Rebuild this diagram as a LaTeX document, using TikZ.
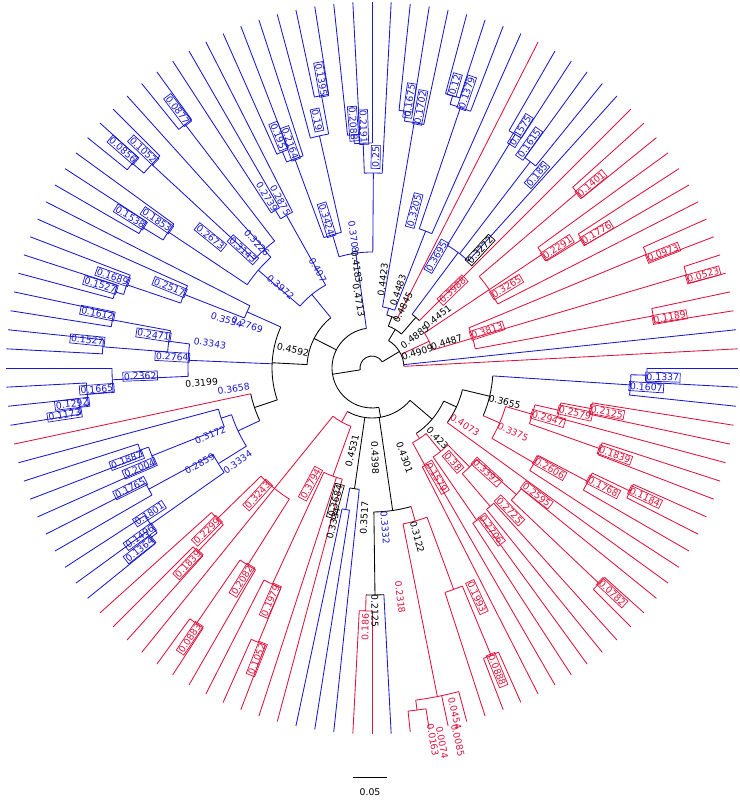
\documentclass[tikz,border=0pt]{standalone}
\usepackage{fontspec}
\newfontfamily\lblfont{DejaVu Sans}
\definecolor{rd}{RGB}{220,20,60}
\definecolor{bl}{RGB}{25,25,205}
% radial branch, arc joining children, tip to the rim, branch label
\newcommand{\brch}[4]{\draw[#1] (#2:#3pt) -- (#2:#4pt);}
\newcommand{\jn}[4]{\draw[#1] (#2:#4pt) arc[start angle=#2, end angle=#3, radius=#4pt];}
\newcommand{\tipl}[3]{\draw[#1] (#2:#3pt) -- (#2:366pt);}
\newcommand{\lab}[4]{\pgfmathsetmacro\rt{cos(#2)<0 ? #2-180 : #2}\node[#1,rotate=\rt] at (#2:#3pt) {#4};}
\tikzset{
  bx/.style={draw, line width=0.7pt, inner sep=1pt, font={\lblfont\fontsize{9.3}{10}\selectfont}},
  pl/.style={inner sep=1pt, font={\lblfont\fontsize{9.3}{10}\selectfont}},
}
\begin{document}
\begin{tikzpicture}[line width=0.85pt]
\useasboundingbox (0pt,0pt) rectangle (739pt,800pt);
\begin{scope}[shift={(372pt,432pt)}]
% root and right clade
\jn{black}{31}{189}{12}
\brch{black}{31}{12}{32} \jn{black}{3}{58.85}{32}
\tipl{rd}{3}{32} \tipl{bl}{6}{32}
\brch{rd}{25.1}{32}{63} \jn{rd}{16.5}{33.75}{63}
\brch{rd}{16.5}{63}{105} \jn{rd}{10.5}{22.5}{105}
\brch{rd}{10.5}{105}{286} \jn{rd}{9}{12}{286} \tipl{rd}{9}{286} \tipl{rd}{12}{286}
\brch{rd}{16.5}{105}{328} \jn{rd}{15}{18}{328} \tipl{rd}{15}{328} \tipl{rd}{18}{328}
\brch{rd}{22.5}{105}{297} \jn{rd}{21}{24}{297} \tipl{rd}{21}{297} \tipl{rd}{24}{297}
\brch{rd}{33.75}{63}{141} \jn{rd}{27}{40.5}{141} \tipl{rd}{27}{141}
\brch{rd}{33.75}{141}{205} \jn{rd}{31.5}{36}{205} \tipl{rd}{36}{205}
\brch{rd}{31.5}{205}{246} \jn{rd}{30}{33}{246} \tipl{rd}{30}{246} \tipl{rd}{33}{246}
\brch{rd}{40.5}{141}{270} \jn{rd}{39}{42}{270} \tipl{rd}{39}{270} \tipl{rd}{42}{270}
\brch{black}{58.85}{32}{45} \jn{black}{49.1}{68.7}{45}
\brch{black}{49.1}{45}{67} \jn{black}{45}{53.25}{67} \tipl{rd}{45}{67}
\brch{bl}{53.25}{67}{144} \jn{bl}{48}{58.5}{144} \tipl{bl}{48}{144}
\brch{bl}{52.5}{144}{260} \jn{bl}{51}{54}{260} \tipl{bl}{51}{260} \tipl{bl}{54}{260}
\brch{bl}{58.5}{144}{274} \jn{bl}{57}{60}{274} \tipl{bl}{57}{274} \tipl{bl}{60}{274}
\brch{black}{68.7}{45}{55} \jn{black}{63}{74.4}{55} \tipl{rd}{63}{55}
\brch{bl}{74.4}{55}{62} \jn{bl}{68.6}{80.25}{62}
\brch{bl}{68.6}{62}{147} \jn{bl}{66}{71.25}{147} \tipl{bl}{66}{147}
\brch{bl}{71.25}{147}{275} \jn{bl}{69}{73.5}{275} \tipl{bl}{69}{275}
\brch{bl}{73.5}{275}{284} \jn{bl}{72}{75}{284} \tipl{bl}{72}{284} \tipl{bl}{75}{284}
\brch{bl}{80.25}{62}{249} \jn{bl}{78}{82.5}{249} \tipl{bl}{78}{249}
\brch{bl}{82.5}{249}{259} \jn{bl}{81}{84}{259} \tipl{bl}{81}{259} \tipl{bl}{84}{259}
% upper and left clades
\brch{black}{189}{12}{40} \jn{black}{98.05}{279.9}{40}
\brch{bl}{98.05}{40}{116} \jn{bl}{89.6}{106.5}{116}
\brch{bl}{89.6}{116}{195} \jn{bl}{87}{92.25}{195} \tipl{bl}{87}{195}
\brch{bl}{92.25}{195}{225} \jn{bl}{90}{94.5}{225} \tipl{bl}{90}{225}
\brch{bl}{94.5}{225}{234} \jn{bl}{93}{96}{234} \tipl{bl}{93}{234} \tipl{bl}{96}{234}
\brch{bl}{106.5}{116}{139} \jn{bl}{102.75}{110.25}{139}
\brch{bl}{102.75}{139}{238} \jn{bl}{100.5}{105}{238} \tipl{bl}{105}{238}
\brch{bl}{100.5}{238}{277} \jn{bl}{99}{102}{277} \tipl{bl}{99}{277} \tipl{bl}{102}{277}
\brch{bl}{110.25}{139}{223} \jn{bl}{108}{112.5}{223} \tipl{bl}{108}{223}
\brch{bl}{112.5}{223}{234} \jn{bl}{111}{114}{234} \tipl{bl}{111}{234} \tipl{bl}{114}{234}
\brch{black}{153}{40}{65} \jn{black}{129.3}{177}{65}
\brch{bl}{129.3}{65}{95} \jn{bl}{119.25}{139.3}{95}
\brch{bl}{119.25}{95}{175} \jn{bl}{117}{121.5}{175} \tipl{bl}{117}{175}
\brch{bl}{121.5}{175}{185} \jn{bl}{120}{123}{185} \tipl{bl}{120}{185} \tipl{bl}{123}{185}
\brch{bl}{139.3}{95}{150} \jn{bl}{132.4}{146.25}{150}
\brch{bl}{132.4}{150}{160} \jn{bl}{127.5}{137.25}{160} \tipl{bl}{132}{160}
\brch{bl}{127.5}{160}{307} \jn{bl}{126}{129}{307} \tipl{bl}{126}{307} \tipl{bl}{129}{307}
\brch{bl}{137.25}{160}{300} \jn{bl}{135}{139.5}{300} \tipl{bl}{135}{300}
\brch{bl}{139.5}{300}{315} \jn{bl}{138}{141}{315} \tipl{bl}{138}{315} \tipl{bl}{141}{315}
\brch{bl}{146.25}{150}{245} \jn{bl}{144}{148.5}{245} \tipl{bl}{144}{245}
\brch{bl}{148.5}{245}{269} \jn{bl}{147}{150}{269} \tipl{bl}{147}{269} \tipl{bl}{150}{269}
\brch{black}{177}{65}{100} \jn{black}{155.8}{198.6}{100}
\brch{bl}{155.8}{100}{137} \jn{bl}{153}{158.6}{137} \tipl{bl}{153}{137}
\brch{bl}{158.6}{137}{202} \jn{bl}{156}{161.25}{202} \tipl{bl}{156}{202}
\brch{bl}{161.25}{202}{259} \jn{bl}{159}{163.5}{259} \tipl{bl}{159}{259}
\brch{bl}{163.5}{259}{268} \jn{bl}{162}{165}{268} \tipl{bl}{162}{268} \tipl{bl}{165}{268}
\brch{bl}{177.6}{100}{184} \jn{bl}{172.5}{182.6}{184}
\brch{bl}{172.5}{184}{205} \jn{bl}{169.5}{175.5}{205}
\brch{bl}{169.5}{205}{264} \jn{bl}{168}{171}{264} \tipl{bl}{168}{264} \tipl{bl}{171}{264}
\brch{bl}{175.5}{205}{270} \jn{bl}{174}{177}{270} \tipl{bl}{174}{270} \tipl{bl}{177}{270}
\brch{bl}{182.6}{184}{260} \jn{bl}{180}{185.25}{260} \tipl{bl}{180}{260}
\brch{bl}{185.25}{260}{286} \jn{bl}{183}{187.5}{286} \tipl{bl}{183}{286}
\brch{bl}{187.5}{286}{295} \jn{bl}{186}{189}{295} \tipl{bl}{186}{295} \tipl{bl}{189}{295}
\brch{black}{198.6}{100}{124} \jn{black}{192}{205.15}{124} \tipl{rd}{192}{124}
\brch{bl}{205.15}{124}{148} \jn{bl}{198.4}{211.9}{148}
\brch{bl}{198.4}{148}{159} \jn{bl}{195}{201.75}{159} \tipl{bl}{195}{159}
\brch{bl}{201.75}{159}{237} \jn{bl}{199.5}{204}{237} \tipl{bl}{204}{237}
\brch{bl}{199.5}{237}{246} \jn{bl}{198}{201}{246} \tipl{bl}{198}{246} \tipl{bl}{201}{246}
\brch{bl}{211.9}{148}{181} \jn{bl}{208.5}{215.25}{181}
\brch{bl}{208.5}{181}{254} \jn{bl}{207}{210}{254} \tipl{bl}{207}{254} \tipl{bl}{210}{254}
\brch{bl}{215.25}{181}{271} \jn{bl}{213}{217.5}{271} \tipl{bl}{213}{271}
\brch{bl}{217.5}{271}{279} \jn{bl}{216}{219}{279} \tipl{bl}{216}{279} \tipl{bl}{219}{279}
% bottom clades
\brch{black}{279.9}{40}{50} \jn{black}{240.55}{319.6}{50}
\brch{rd}{240.55}{50}{62} \jn{rd}{231}{250.1}{62}
\brch{rd}{231}{62}{155} \jn{rd}{224.25}{237.75}{155} \tipl{rd}{231}{155}
\brch{rd}{224.25}{155}{216} \jn{rd}{222}{226.5}{216} \tipl{rd}{222}{216}
\brch{rd}{226.5}{216}{253} \jn{rd}{225}{228}{253} \tipl{rd}{225}{253} \tipl{rd}{228}{253}
\brch{rd}{237.75}{155}{233} \jn{rd}{235.5}{240}{233} \tipl{rd}{240}{233}
\brch{rd}{235.5}{233}{310} \jn{rd}{234}{237}{310} \tipl{rd}{234}{310} \tipl{rd}{237}{310}
\brch{rd}{250.1}{62}{115} \jn{rd}{245.25}{255}{115} \tipl{rd}{252}{115} \tipl{rd}{255}{115}
\brch{rd}{245.25}{115}{238} \jn{rd}{243}{247.5}{238} \tipl{rd}{243}{238}
\brch{rd}{247.5}{238}{297} \jn{rd}{246}{249}{297} \tipl{rd}{246}{297} \tipl{rd}{249}{297}
\brch{black}{261.75}{50}{122} \jn{black}{259.5}{264}{122} \tipl{bl}{264}{122}
\brch{bl}{259.5}{122}{144} \jn{bl}{258}{261}{144} \tipl{bl}{258}{144} \tipl{bl}{261}{144}
\brch{black}{278.25}{50}{144} \jn{black}{270.75}{285.75}{144}
\brch{black}{270.75}{144}{227} \jn{black}{268.5}{273}{227} \tipl{bl}{273}{227}
\brch{rd}{268.5}{227}{243} \jn{rd}{267}{270}{243} \tipl{rd}{267}{243} \tipl{rd}{270}{243}
\brch{rd}{285.75}{144}{159} \jn{rd}{281.25}{290.25}{159}
\brch{rd}{281.25}{159}{335} \jn{rd}{277.5}{285}{335} \tipl{rd}{282}{335} \tipl{rd}{285}{335}
\brch{rd}{277.5}{335}{345} \jn{rd}{276}{279}{345} \tipl{rd}{276}{345} \tipl{rd}{279}{345}
\brch{rd}{290.25}{159}{236} \jn{rd}{288}{292.5}{236} \tipl{rd}{288}{236}
\brch{rd}{292.5}{236}{311} \jn{rd}{291}{294}{311} \tipl{rd}{291}{311} \tipl{rd}{294}{311}
\brch{black}{319.6}{50}{79} \jn{black}{304}{335.25}{79}
\brch{rd}{304}{79}{85} \jn{rd}{298.5}{309.5}{85}
\brch{rd}{298.5}{85}{111} \jn{rd}{297}{300}{111} \tipl{rd}{297}{111} \tipl{rd}{300}{111}
\brch{rd}{309.5}{85}{108} \jn{rd}{304.5}{314.6}{108}
\brch{rd}{304.5}{108}{185} \jn{rd}{303}{306}{185} \tipl{rd}{303}{185} \tipl{rd}{306}{185}
\brch{rd}{314.6}{108}{139} \jn{rd}{310.5}{318.75}{139}
\brch{rd}{310.5}{139}{182} \jn{rd}{309}{312}{182} \tipl{rd}{309}{182} \tipl{rd}{312}{182}
\brch{rd}{318.75}{139}{192} \jn{rd}{316.5}{321}{192} \tipl{rd}{321}{192}
\brch{rd}{316.5}{192}{313} \jn{rd}{315}{318}{313} \tipl{rd}{315}{313} \tipl{rd}{318}{313}
\brch{black}{335.25}{79}{93} \jn{black}{324}{346.5}{93} \tipl{rd}{324}{93}
\brch{black}{346.5}{93}{121} \jn{black}{336.75}{356.25}{121}
\brch{rd}{336.75}{121}{139} \jn{rd}{329.6}{343.9}{139}
\brch{rd}{329.6}{139}{188} \jn{rd}{327}{332.25}{188} \tipl{rd}{327}{188}
\brch{rd}{332.25}{188}{244} \jn{rd}{330}{334.5}{244} \tipl{rd}{330}{244}
\brch{rd}{334.5}{244}{286} \jn{rd}{333}{336}{286} \tipl{rd}{333}{286} \tipl{rd}{336}{286}
\brch{rd}{343.9}{139}{167} \jn{rd}{340.5}{347.25}{167}
\brch{rd}{340.5}{167}{242} \jn{rd}{339}{342}{242} \tipl{rd}{339}{242} \tipl{rd}{342}{242}
\brch{rd}{347.25}{167}{192} \jn{rd}{345}{349.5}{192} \tipl{rd}{345}{192}
\brch{rd}{349.5}{192}{223} \jn{rd}{348}{351}{223} \tipl{rd}{348}{223} \tipl{rd}{351}{223}
\brch{bl}{356.25}{121}{259} \jn{bl}{354}{358.5}{259} \tipl{bl}{354}{259}
\brch{bl}{358.5}{259}{275} \jn{bl}{357}{360}{275} \tipl{bl}{357}{275} \tipl{bl}{360}{275}
% branch labels
\lab{bx,rd}{9.7}{302}{0.1189} \lab{bx,rd}{15.7}{344}{0.0523} \lab{bx,rd}{21.6}{313}{0.0973}
\lab{bx,rd}{31}{262}{0.1776} \lab{bx,rd}{33}{221}{0.2291} \lab{bx,rd}{40}{286}{0.1401}
\lab{bx,rd}{31}{157}{0.3265} \lab{bx,rd}{18}{121}{0.3813} \lab{bx,rd}{44}{112}{0.3988}
\lab{pl}{19}{79}{0.4487} \lab{pl}{19}{48}{0.4909} \lab{pl}{36}{53}{0.4885} \lab{pl}{38}{83}{0.4451}
\lab{pl}{63}{68}{0.4845} \lab{pl}{71.5}{82}{0.4483} \lab{pl}{83}{89}{0.4423} \lab{bx}{47.5}{160}{0.3272}
\lab{bx,bl}{49.5}{254}{0.185} \lab{bx,bl}{58}{280}{0.1575} \lab{bx,bl}{55}{274}{0.1615}
\lab{bx,bl}{60}{129}{0.3695} \lab{bx,bl}{75}{163}{0.3205} \lab{bx,bl}{82}{270}{0.1675}
\lab{bx,bl}{79.5}{265}{0.1702} \lab{bx,bl}{73.7}{295}{0.12} \lab{bx,bl}{71}{291}{0.1379}
\lab{bx,bl}{89}{211}{0.25} \lab{bx,bl}{100}{293}{0.1395} \lab{bx,bl}{102.5}{254}{0.19}
\lab{bx,bl}{94.4}{245}{0.2088} \lab{bx,bl}{92}{241}{0.2191} \lab{bx,bl}{112}{250}{0.195}
\lab{bx,bl}{110}{239}{0.2164} \lab{bx,bl}{107}{155}{0.3424}
\lab{pl,bl}{98}{132}{0.3708} \lab{pl,bl}{119}{112}{0.407} \lab{pl,bl}{121.5}{201}{0.2739}
\lab{pl,bl}{118.7}{191}{0.2875} \lab{pl,bl}{132.6}{170}{0.3226} \lab{pl,bl}{138.6}{122}{0.3972}
\lab{pl,bl}{161.8}{153}{0.3534} \lab{pl,bl}{161}{132}{0.2769} \lab{pl,bl}{171.3}{164}{0.3343}
\lab{pl,bl}{188.6}{140}{0.3658} \lab{pl,bl}{202.5}{175}{0.3172} \lab{pl,bl}{209}{197}{0.2859}
\lab{pl,bl}{215}{164}{0.3334}
\lab{pl}{98.5}{102}{0.4183} \lab{pl}{101}{69}{0.4713} \lab{pl}{167}{81}{0.4592} \lab{pl}{185}{171}{0.3199}
\lab{bx,bl}{127}{323}{0.0877} \lab{bx,bl}{136.4}{316}{0.1052} \lab{bx,bl}{138.8}{331}{0.0856}
\lab{bx,bl}{145.5}{261}{0.1853} \lab{bx,bl}{148}{285}{0.1538} \lab{bx,bl}{141}{208}{0.2673}
\lab{bx,bl}{137.5}{175}{0.3143} \lab{bx,bl}{158.2}{218}{0.2517} \lab{bx,bl}{160.6}{275}{0.1689}
\lab{bx,bl}{163}{284}{0.1527} \lab{bx,bl}{168.7}{280}{0.1612} \lab{bx,bl}{171.4}{221}{0.2471}
\lab{bx,bl}{174.4}{286}{0.1527} \lab{bx,bl}{176.8}{200}{0.2764} \lab{bx,bl}{182}{232}{0.2362}
\lab{bx,bl}{184.4}{276}{0.1665} \lab{bx,bl}{186.8}{302}{0.1292} \lab{bx,bl}{188.7}{311}{0.1173}
\lab{bx,bl}{200.6}{262}{0.1887} \lab{bx,bl}{203.3}{253}{0.2004} \lab{bx,bl}{206.4}{270}{0.1765}
\lab{bx,bl}{213.2}{266}{0.1801} \lab{bx,bl}{216}{287}{0.1496} \lab{bx,bl}{218}{295}{0.1364}
\lab{bx,rd}{224.6}{232}{0.2299} \lab{bx,rd}{226.8}{269}{0.1839} \lab{bx,rd}{238.5}{249}{0.2082}
\lab{bx,rd}{236}{326}{0.0883} \lab{bx,rd}{246.4}{254}{0.1979} \lab{bx,rd}{248.4}{313}{0.1052}
\lab{bx,rd}{242}{131}{0.3794} \lab{bx,rd}{228}{171}{0.3243}
\lab{pl}{256.5}{85}{0.4531} \lab{bx}{254.6}{138}{0.3684} \lab{pl}{256}{160}{0.3334}
\lab{pl}{267}{150}{0.3517} \lab{pl}{272}{90}{0.4398} \lab{pl}{290}{95}{0.4301} \lab{pl}{285}{175}{0.3122}
\lab{pl}{270.7}{243}{0.2125} \lab{pl}{313}{96}{0.423} \lab{pl}{345.7}{137}{0.3655}
\lab{pl,bl}{274.7}{160}{0.3332}
\lab{pl,rd}{268.5}{259}{0.186} \lab{pl,rd}{277}{231}{0.2318} \lab{pl,rd}{283.5}{355}{0.0454}
\lab{pl,rd}{283}{382}{0.0085} \lab{pl,rd}{280.6}{381}{0.0074} \lab{pl,rd}{279.3}{377}{0.0163}
\lab{pl,rd}{328.5}{109}{0.4073} \lab{pl,rd}{335.6}{155}{0.3375}
\lab{bx,rd}{294.6}{252}{0.1993} \lab{bx,rd}{292.5}{327}{0.0888} \lab{bx,rd}{300.6}{127}{0.1579}
\lab{bx,rd}{310.8}{124}{0.38} \lab{bx,rd}{317.8}{155}{0.3397} \lab{bx,rd}{314}{198}{0.2725}
\lab{bx,rd}{306.5}{201}{0.2706} \lab{bx,rd}{322.4}{208}{0.2595} \lab{bx,rd}{330.6}{204}{0.2606}
\lab{bx,rd}{344}{183}{0.2947} \lab{bx,rd}{347.5}{208}{0.2579} \lab{bx,rd}{349.4}{239}{0.2125}
\lab{bx,rd}{340.3}{258}{0.1839} \lab{bx,rd}{332.8}{260}{0.1768} \lab{bx,rd}{334.7}{302}{0.1184}
\lab{bx,rd}{316.9}{329}{0.0782} \lab{bx,bl}{358.2}{291}{0.1337} \lab{bx,bl}{356}{275}{0.1607}
\end{scope}
% scale bar
\coordinate (sbl) at (353pt,23pt);
\coordinate (sbr) at (387pt,23pt);
\draw (sbl) -- (sbr);
\node[pl] (sbt) at (370pt,8pt) {0.05};
\end{tikzpicture}
\end{document}
